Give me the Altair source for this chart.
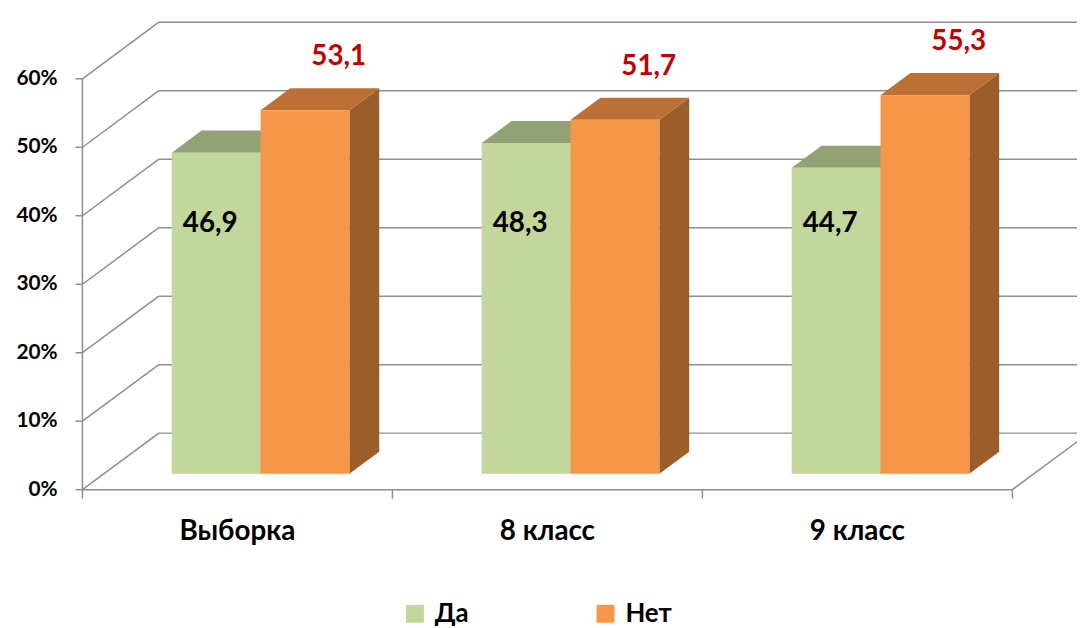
import altair as alt
import pandas as pd

# ---- data ----
categories = ["Выборка", "8 класс", "9 класс"]
series = ["Да", "Нет"]
da = [46.9, 48.3, 44.7]
net = [53.1, 51.7, 55.3]
y_ticks = [0, 10, 20, 30, 40, 50, 60]
y_tick_labels = ["0%", "10%", "20%", "30%", "40%", "50%", "60%"]

front_colors = ["#C3D69B", "#F79646"]
top_colors = ["#93A274", "#BC7035"]
side_colors = ["#7E8B62", "#9B5D2A"]

# ---- 3D geometry (chart units: x ~ px, y ~ percent) ----
CAT_W = 312.3
DX, DY = 77.0, 8.26
F0, FD = 0.28, 0.39
BAR_W = 89.5
BAR_OFF = 68.4
PLOT_W, PLOT_H = 1002, 612
Y_DOMAIN = [-18.7, 70.0]
FONT = "Lato"

fronts, tops, sides, da_labels, net_labels = [], [], [], [], []
for i, cat in enumerate(categories):
    for s, vals in enumerate([da, net]):
        v = vals[i]
        bid = f"{i}-{s}"
        xl = i * CAT_W + BAR_OFF + s * BAR_W + F0 * DX
        xr = xl + BAR_W
        yb = F0 * DY
        yt = v + F0 * DY
        fronts.append(dict(id=bid, series=series[s], x=xl, x2=xr, y=yb, y2=yt))
        tops.append(dict(id=bid, fill=top_colors[s], y=yt, x=xl, x2=xr))
        tops.append(dict(id=bid, fill=top_colors[s], y=yt + FD * DY, x=xl + FD * DX, x2=xr + FD * DX))
        sides.append(dict(id=bid, fill=side_colors[s], x=xr, y=yb, y2=yt))
        sides.append(dict(id=bid, fill=side_colors[s], x=xr + FD * DX, y=yb + FD * DY, y2=yt + FD * DY))
        lab = f"{v:.1f}".replace(".", ",")
        if s == 0:
            da_labels.append(dict(x=(xl + xr) / 2 - 6, y=38.8, t=lab))
        else:
            net_labels.append(dict(x=(xl + xr) / 2 + FD * DX + 4, y=yt + FD * DY + 4.5, t=lab))

grid_in = []
grid_clip = []
for v in y_ticks:
    grid_in.append(dict(x=0, x2=DX, y=v, y2=v + DY))
    grid_in.append(dict(x=-7, x2=0, y=v, y2=v))
    grid_clip.append(dict(x=DX, x2=3 * CAT_W + DX, y=v + DY, y2=v + DY))
grid_in.append(dict(x=0, x2=0, y=0, y2=60))
grid_in.append(dict(x=0, x2=3 * CAT_W, y=0, y2=0))
grid_clip.append(dict(x=3 * CAT_W, x2=3 * CAT_W + DX, y=0, y2=DY))
for i in range(len(categories) + 1):
    grid_in.append(dict(x=i * CAT_W, x2=i * CAT_W, y=0, y2=-1.3))

cat_labels = [dict(x=i * CAT_W + CAT_W / 2, y=-6.2, t=c) for i, c in enumerate(categories)]
ylab = [dict(x=-25, y=v, t=t) for v, t in zip(y_ticks, y_tick_labels)]

xs = alt.Scale(domain=[0, PLOT_W], nice=False, zero=False)
ys = alt.Scale(domain=Y_DOMAIN, nice=False, zero=False)
GRID = "#8E8E8E"


def X(f="x:Q"):
    return alt.X(f, scale=xs, axis=None)


def Y(f="y:Q"):
    return alt.Y(f, scale=ys, axis=None)


grid1 = alt.Chart(pd.DataFrame(grid_in)).mark_rule(color=GRID, strokeWidth=1.5).encode(
    x=X(), x2="x2:Q", y=Y(), y2="y2:Q",
)
grid2 = alt.Chart(pd.DataFrame(grid_clip)).mark_rule(color=GRID, strokeWidth=1.5, clip=True).encode(
    x=X(), x2="x2:Q", y=Y(), y2="y2:Q",
)

side_layer = alt.Chart(pd.DataFrame(sides)).mark_area(orient="vertical", opacity=1).encode(
    x=X(), y=Y(), y2="y2:Q",
    fill=alt.Fill("fill:N", scale=None), detail="id:N",
)
top_layer = alt.Chart(pd.DataFrame(tops)).mark_area(orient="horizontal", opacity=1).encode(
    y=Y(), x=X(), x2="x2:Q",
    fill=alt.Fill("fill:N", scale=None), detail="id:N",
)
front_layer = alt.Chart(pd.DataFrame(fronts)).mark_rect(opacity=1, strokeWidth=0).encode(
    x=X(), x2="x2:Q", y=Y(), y2="y2:Q",
    color=alt.Color(
        "series:N",
        scale=alt.Scale(domain=series, range=front_colors),
        legend=alt.Legend(
            orient="none", legendX=322, legendY=595, direction="horizontal", title=None,
            symbolType="square", symbolSize=324, symbolStrokeWidth=0, symbolOpacity=1,
            labelFont=FONT, labelFontSize=26, labelFontWeight="bold", labelColor="#000000",
            columnPadding=124, labelOffset=7, padding=0,
        ),
    ),
)

da_text = alt.Chart(pd.DataFrame(da_labels)).mark_text(
    font=FONT, fontSize=28, fontWeight="bold", color="#000000", baseline="middle", align="center"
).encode(x=X(), y=Y(), text="t:N")
net_text = alt.Chart(pd.DataFrame(net_labels)).mark_text(
    font=FONT, fontSize=28, fontWeight="bold", color="#C00000", baseline="middle", align="center"
).encode(x=X(), y=Y(), text="t:N")
cat_text = alt.Chart(pd.DataFrame(cat_labels)).mark_text(
    font=FONT, fontSize=28, fontWeight="bold", color="#000000", baseline="middle", align="center"
).encode(x=X(), y=Y(), text="t:N")
y_text = alt.Chart(pd.DataFrame(ylab)).mark_text(
    font=FONT, fontSize=21, fontWeight="bold", color="#000000", baseline="middle", align="right"
).encode(x=X(), y=Y(), text="t:N")

chart = alt.layer(
    grid1, grid2, side_layer, top_layer, front_layer, da_text, net_text, cat_text, y_text
).properties(
    width=PLOT_W, height=PLOT_H,
    padding={"left": 75, "top": 0, "right": 0, "bottom": 8},
    autosize=alt.AutoSizeParams(type="none"),
    background="#FFFFFF",
).configure_view(stroke=None)

chart.save("out.html", embed_options={"renderer": "svg", "actions": False})
